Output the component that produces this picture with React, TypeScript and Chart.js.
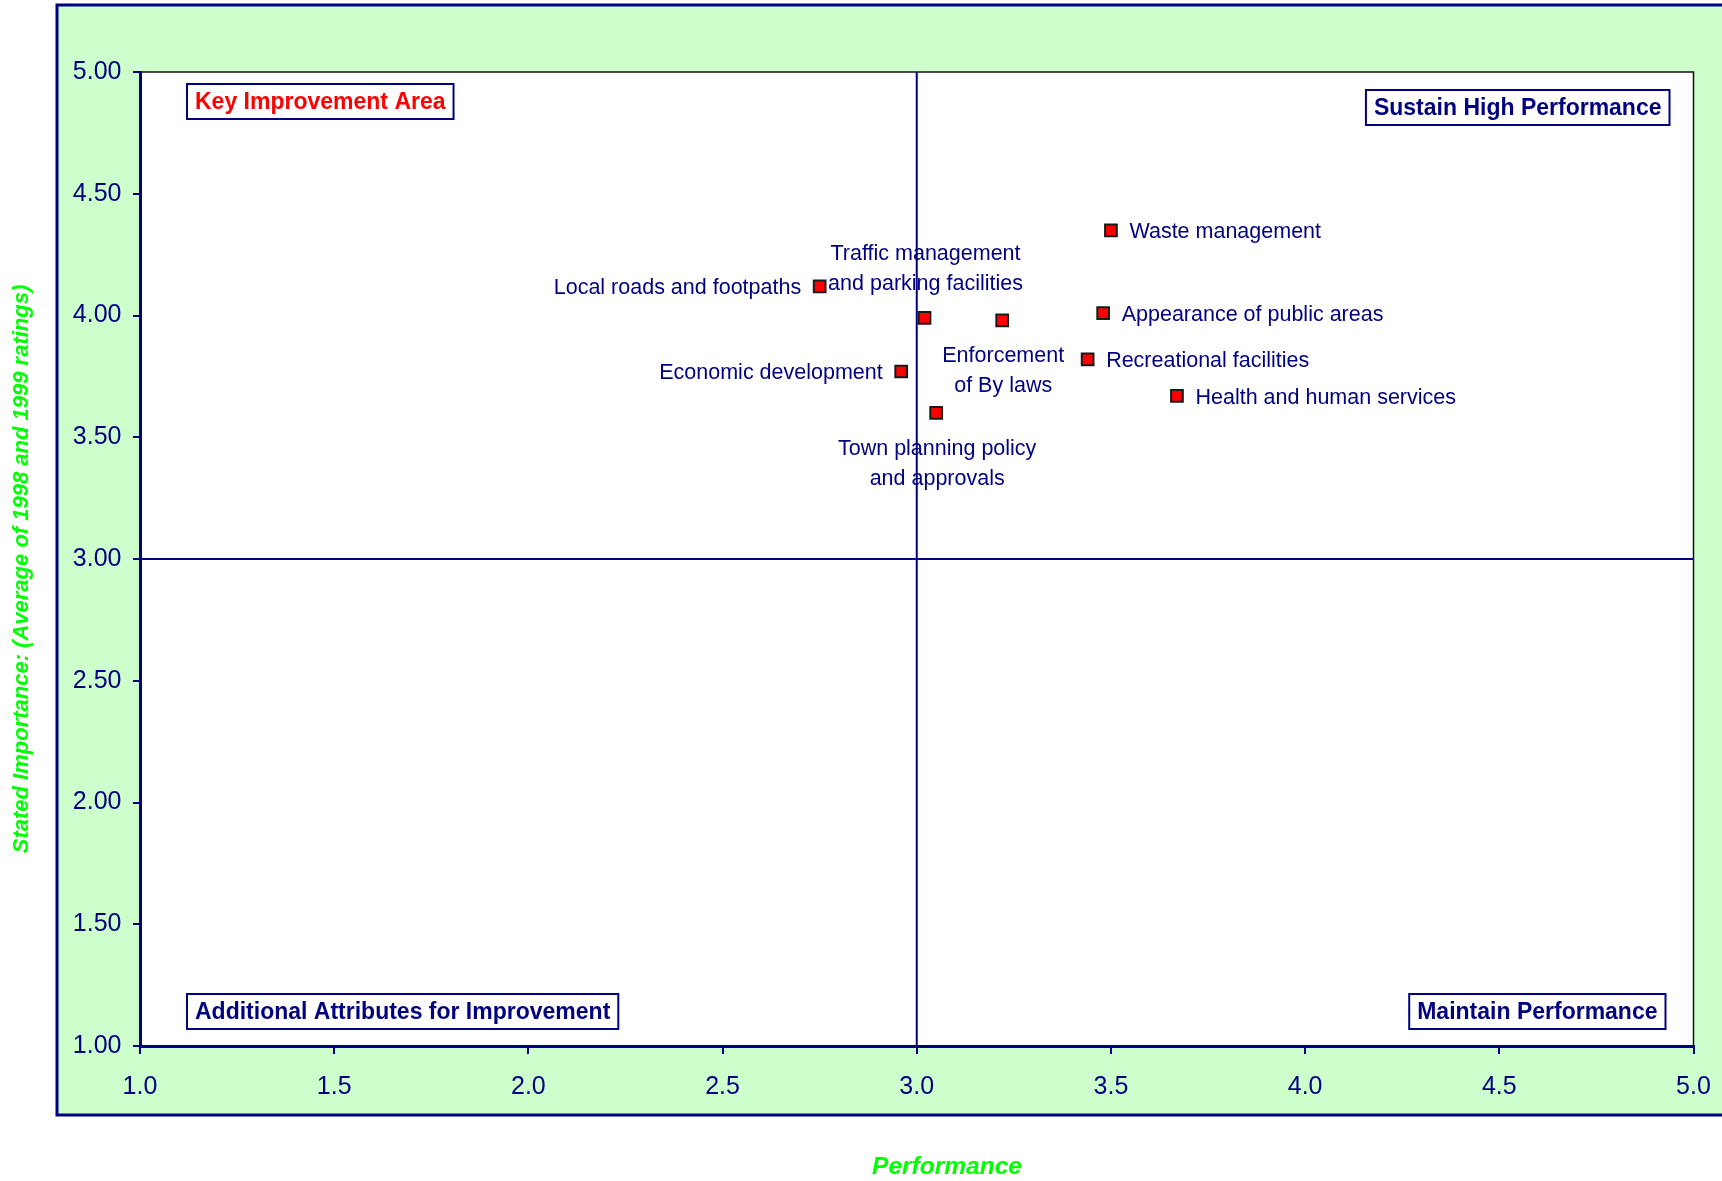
import React, { useEffect, useRef } from "react";
import { Chart, registerables } from "chart.js";

Chart.register(...registerables);

// Service attributes: performance (x) vs stated importance (y)
const attributeLabels: string[][] = [
  ["Waste management"],
  ["Local roads and footpaths"],
  ["Traffic management", "and parking facilities"],
  ["Enforcement", "of By laws"],
  ["Appearance of public areas"],
  ["Recreational facilities"],
  ["Health and human services"],
  ["Economic development"],
  ["Town planning policy", "and approvals"],
];
const performance = [3.5, 2.75, 3.02, 3.22, 3.48, 3.44, 3.67, 2.96, 3.05];
const importance = [4.35, 4.12, 3.99, 3.98, 4.01, 3.82, 3.67, 3.77, 3.6];
const labelSide = ["right", "left", "above", "below", "right", "right", "right", "left", "below"];

// Axis ranges and quadrant dividers
const xRange = [1, 5];
const yRange = [1, 5];
const tickStep = 0.5;
const xDivider = 3.0;
const yDivider = 3.0;

// Quadrant captions: top-left, top-right, bottom-left, bottom-right
const quadrantNames = [
  "Key Improvement Area",
  "Sustain High Performance",
  "Additional Attributes for Improvement",
  "Maintain Performance",
];
const quadrantColors = ["#FF0000", "#000080", "#000080", "#000080"];

const xTitle = "Performance";
const yTitle = "Stated Importance: (Average of 1998 and 1999 ratings)";

const NAVY = "#000080";
const PANEL = "#CCFFCC";
const TITLE_GREEN = "#00FF00";
const FONT = "'Liberation Sans', Arial, sans-serif";

const decorPlugin = {
  id: "quadrantDecor",
  beforeDraw(chart: any) {
    const { ctx, chartArea: a, width, height } = chart;
    ctx.save();
    ctx.fillStyle = "#ffffff";
    ctx.fillRect(0, 0, width, height);
    // green panel behind the plot
    ctx.fillStyle = PANEL;
    ctx.fillRect(57, 5, width, 1110);
    ctx.strokeStyle = NAVY;
    ctx.lineWidth = 3;
    ctx.strokeRect(57, 5, width + 20, 1110);
    // white plot area
    ctx.fillStyle = "#ffffff";
    ctx.fillRect(a.left, a.top, a.right - a.left, a.bottom - a.top);
    ctx.strokeStyle = "#111111";
    ctx.lineWidth = 1.5;
    ctx.beginPath();
    ctx.moveTo(a.left, a.top);
    ctx.lineTo(a.right, a.top);
    ctx.lineTo(a.right, a.bottom);
    ctx.stroke();
    ctx.restore();
  },
  beforeDatasetsDraw(chart: any) {
    const { ctx, chartArea: a } = chart;
    const xs = chart.scales.x;
    const ys = chart.scales.y;
    const px = xs.getPixelForValue(xDivider);
    const py = ys.getPixelForValue(yDivider);
    ctx.save();
    ctx.strokeStyle = NAVY;
    ctx.lineWidth = 2;
    ctx.beginPath();
    ctx.moveTo(px, a.top);
    ctx.lineTo(px, a.bottom);
    ctx.moveTo(a.left, py);
    ctx.lineTo(a.right, py);
    ctx.stroke();

    // quadrant caption boxes
    ctx.font = `bold 23px ${FONT}`;
    ctx.textBaseline = "middle";
    ctx.textAlign = "center";
    const boxH = 35;
    const padX = 8;
    quadrantNames.forEach((name, i) => {
      const w = ctx.measureText(name).width + padX * 2;
      let left: number;
      let top: number;
      if (i === 0) { left = a.left + 47; top = a.top + 12; }
      else if (i === 1) { left = a.right - 24 - w; top = a.top + 18; }
      else if (i === 2) { left = a.left + 47; top = a.bottom - 17 - boxH; }
      else { left = a.right - 28 - w; top = a.bottom - 17 - boxH; }
      ctx.fillStyle = "#ffffff";
      ctx.fillRect(left, top, w, boxH);
      ctx.strokeStyle = NAVY;
      ctx.lineWidth = 2;
      ctx.strokeRect(left, top, w, boxH);
      ctx.fillStyle = quadrantColors[i];
      ctx.fillText(name, left + w / 2, top + boxH / 2 + 1);
    });

    // point labels
    const meta = chart.getDatasetMeta(0);
    ctx.font = `21.5px ${FONT}`;
    ctx.fillStyle = NAVY;
    meta.data.forEach((pt: any, i: number) => {
      const lines = attributeLabels[i];
      const side = labelSide[i];
      const x = pt.x;
      const y = pt.y;
      if (side === "right") {
        ctx.textAlign = "left";
        ctx.fillText(lines[0], x + 18.5, y + 2);
      } else if (side === "left") {
        ctx.textAlign = "right";
        ctx.fillText(lines[0], x - 18.5, y + 2);
      } else if (side === "above") {
        ctx.textAlign = "center";
        lines.forEach((l, j) => {
          ctx.fillText(l, x + 1, y - 34 - (lines.length - 1 - j) * 30);
        });
      } else {
        ctx.textAlign = "center";
        lines.forEach((l, j) => {
          ctx.fillText(l, x + 1, y + 36 + j * 30);
        });
      }
    });
    ctx.restore();
  },
  afterDraw(chart: any) {
    const { ctx } = chart;
    ctx.save();
    ctx.fillStyle = TITLE_GREEN;
    ctx.textAlign = "center";
    ctx.textBaseline = "middle";
    ctx.font = `italic bold 24.5px ${FONT}`;
    ctx.fillText(xTitle, 947, 1167);
    ctx.font = `italic bold 22px ${FONT}`;
    ctx.translate(22, 569);
    ctx.rotate(-Math.PI / 2);
    ctx.fillText(yTitle, 0, 0);
    ctx.restore();
  },
};

export default function App() {
  const canvasRef = useRef<HTMLCanvasElement | null>(null);

  useEffect(() => {
    if (!canvasRef.current) return;
    const points = performance.map((p, i) => ({ x: p, y: importance[i] }));
    const chart = new Chart(canvasRef.current, {
      type: "scatter",
      data: {
        datasets: [
          {
            data: points,
            pointStyle: "rect",
            pointRadius: 8.3,
            pointHoverRadius: 8.3,
            backgroundColor: "#FF0000",
            borderColor: "#1a1a1a",
            borderWidth: 2,
          },
        ],
      },
      options: {
        responsive: false,
        animation: false,
        devicePixelRatio: 1,
        layout: { padding: { left: 0, top: 72, right: 28.5, bottom: 0 } },
        plugins: {
          legend: { display: false },
          tooltip: { enabled: false },
        },
        scales: {
          x: {
            type: "linear",
            min: xRange[0],
            max: xRange[1],
            afterFit: (s: any) => {
              s.height = 135;
              s.paddingLeft = 0;
              s.paddingRight = 0;
            },
            ticks: {
              stepSize: tickStep,
              padding: 18,
              color: NAVY,
              font: { family: FONT, size: 25 },
              callback: (v: any) => Number(v).toFixed(1),
            },
            grid: { drawOnChartArea: false, drawTicks: true, tickLength: 8, color: NAVY, lineWidth: 2 },
            border: { display: true, color: NAVY, width: 3 },
          },
          y: {
            type: "linear",
            min: yRange[0],
            max: yRange[1],
            afterFit: (s: any) => {
              s.width = 140;
              s.paddingTop = 0;
              s.paddingBottom = 0;
            },
            ticks: {
              stepSize: tickStep,
              padding: 11.5,
              color: NAVY,
              font: { family: FONT, size: 25 },
              callback: (v: any) => Number(v).toFixed(2),
            },
            grid: { drawOnChartArea: false, drawTicks: true, tickLength: 7, color: NAVY, lineWidth: 2 },
            border: { display: true, color: NAVY, width: 3 },
          },
        },
      },
      plugins: [decorPlugin],
    } as any);
    return () => chart.destroy();
  }, []);

  return (
    <div style={{ position: "absolute", left: 0, top: 0, width: 1722, height: 1181 }}>
      <canvas ref={canvasRef} width={1722} height={1181} style={{ display: "block" }} />
    </div>
  );
}
